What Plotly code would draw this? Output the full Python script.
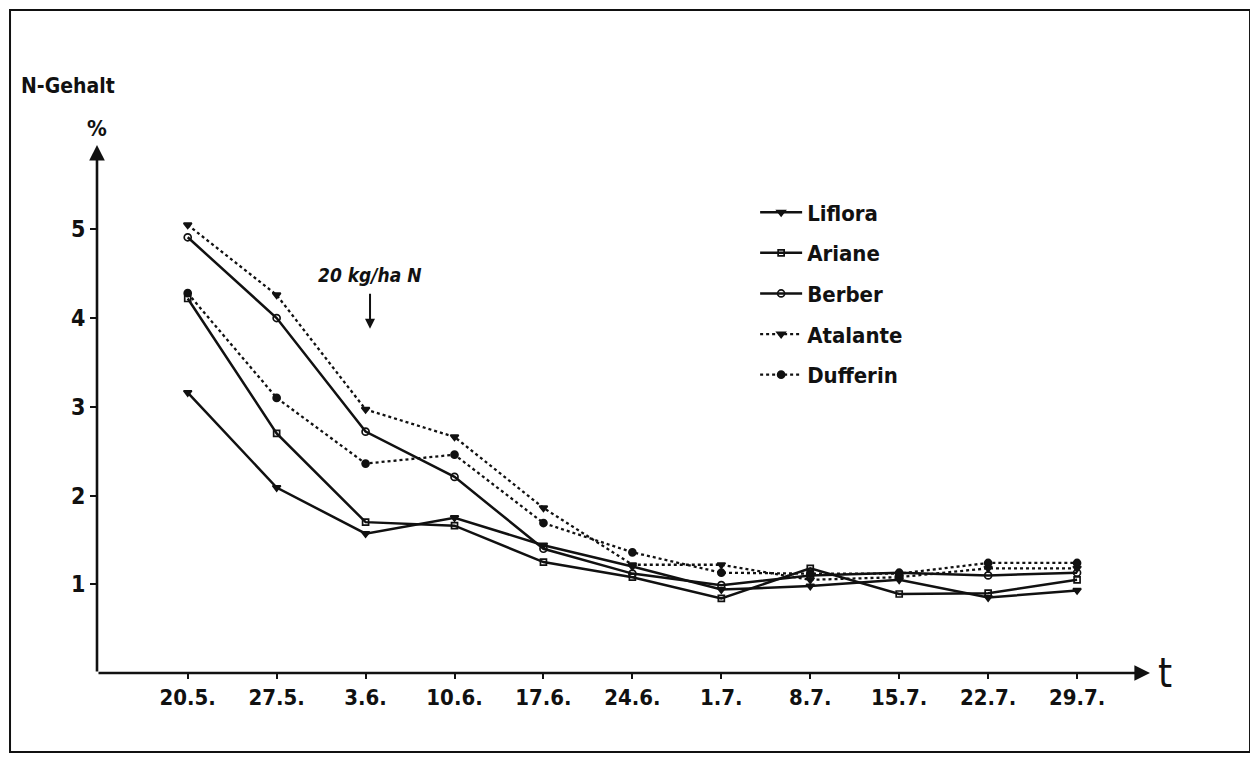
import plotly.graph_objects as go

dates = ["20.5.", "27.5.", "3.6.", "10.6.", "17.6.", "24.6.", "1.7.", "8.7.", "15.7.", "22.7.", "29.7."]
liflora = [3.16, 2.09, 1.57, 1.75, 1.44, 1.20, 0.94, 0.98, 1.05, 0.85, 0.93]
ariane = [4.22, 2.70, 1.70, 1.66, 1.25, 1.08, 0.84, 1.18, 0.89, 0.90, 1.05]
berber = [4.91, 4.00, 2.72, 2.21, 1.40, 1.12, 0.99, 1.10, 1.13, 1.10, 1.13]
atalante = [5.05, 4.26, 2.97, 2.66, 1.86, 1.22, 1.22, 1.05, 1.08, 1.18, 1.18]
dufferin = [4.28, 3.10, 2.36, 2.46, 1.69, 1.36, 1.13, 1.12, 1.12, 1.24, 1.24]
y_ticks = [1, 2, 3, 4, 5]

FONT = "DejaVu Sans Condensed, Liberation Sans Narrow, sans-serif"
idx = list(range(len(dates)))

series = [
    ("Liflora", liflora, "solid", "triangle-down", 7),
    ("Ariane", ariane, "solid", "square-open", 6),
    ("Berber", berber, "solid", "circle-open", 7),
    ("Atalante", atalante, "dot", "triangle-down", 7),
    ("Dufferin", dufferin, "dot", "circle", 7),
]

fig = go.Figure()
for name, vals, dash, sym, size in series:
    fig.add_trace(go.Scatter(
        x=idx, y=vals, name=name, mode="lines+markers",
        line=dict(color="#111", width=2.5 if dash == "solid" else 2.3, dash=dash),
        marker=dict(symbol=sym, size=size, color="#111",
                    line=dict(color="#111", width=1.7)),
        legendgroup=name, cliponaxis=False,
    ))

X_RANGE = [-1.02, 10.82]
fig.update_layout(
    width=1258, height=762,
    paper_bgcolor="white", plot_bgcolor="white",
    margin=dict(l=89, r=116, t=137, b=97),
    font=dict(family=FONT, size=21, color="#111", weight="bold"),
    showlegend=True,
    legend=dict(x=0.625, y=0.912, xanchor="left", yanchor="top",
                bgcolor="rgba(0,0,0,0)",
                font=dict(size=22, family=FONT, weight="bold"),
                tracegroupgap=9, itemwidth=42),
    xaxis=dict(range=X_RANGE, tickmode="array", tickvals=idx, ticktext=dates,
               showgrid=False, zeroline=False, showline=False,
               ticks="outside", ticklen=5, tickwidth=2, tickcolor="#111",
               tickfont=dict(size=22, family=FONT, weight="bold")),
    yaxis=dict(range=[0, 5.95], tickmode="array", tickvals=y_ticks,
               ticktext=[str(v) for v in y_ticks],
               showgrid=False, zeroline=False, showline=False,
               ticks="outside", ticklen=6, tickwidth=2, tickcolor="#111",
               tickfont=dict(size=23, family=FONT, weight="bold")),
)

# axis arrows
fig.add_annotation(x=10.82, y=0, ax=-1.02, ay=0, xref="x", yref="y", axref="x", ayref="y",
                   showarrow=True, arrowhead=2, arrowsize=1.2, arrowwidth=2.6,
                   arrowcolor="#111", text="")
fig.add_annotation(x=-1.02, y=5.95, ax=-1.02, ay=0, xref="x", yref="y", axref="x", ayref="y",
                   showarrow=True, arrowhead=2, arrowsize=1.2, arrowwidth=2.6,
                   arrowcolor="#111", text="")

# labels
fig.add_annotation(x=1.014, y=0.0, xref="paper", yref="paper", text="t", showarrow=False,
                   font=dict(size=40, family=FONT, weight="normal"),
                   xanchor="center", yanchor="middle")
fig.add_annotation(x=-0.028, y=1.112, xref="paper", yref="paper", text="N-Gehalt",
                   showarrow=False, font=dict(size=21, family=FONT, weight="bold"),
                   xanchor="center", yanchor="middle")
fig.add_annotation(x=0.0, y=1.032, xref="paper", yref="paper", text="%",
                   showarrow=False, font=dict(size=22, family=FONT, weight="bold"),
                   xanchor="center", yanchor="middle")
fig.add_annotation(x=2.05, y=4.48, xref="x", yref="y", text="<i>20 kg/ha N</i>",
                   showarrow=False, font=dict(size=19, family=FONT, weight="bold"),
                   xanchor="center", yanchor="middle")
fig.add_annotation(x=2.05, y=3.88, ax=2.05, ay=4.29, xref="x", yref="y", axref="x", ayref="y",
                   showarrow=True, arrowhead=2, arrowsize=1, arrowwidth=2,
                   arrowcolor="#111", text="")

# outer frame
fig.add_shape(type="rect", xref="paper", yref="paper",
              x0=-0.0826, x1=1.095, y0=-0.1496, y1=1.2557,
              line=dict(color="#111", width=2))

fig.write_html("out.html")
